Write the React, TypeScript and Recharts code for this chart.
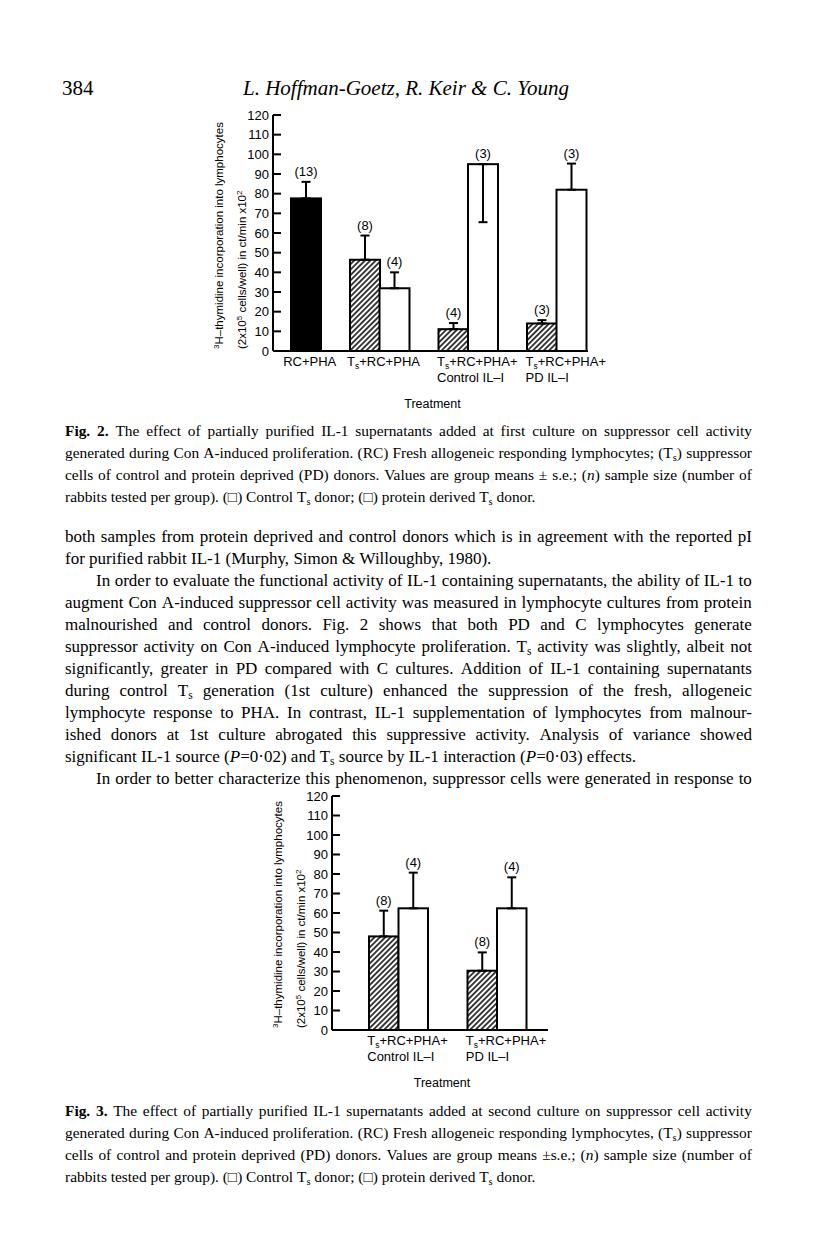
import React from "react";
import { BarChart, Bar, XAxis, YAxis, ErrorBar } from "recharts";

const SANS = "'Liberation Sans', Arial, sans-serif";
const SERIF = "'Liberation Serif', 'Times New Roman', serif";

// Fig. 2 – IL-1 added at first culture (RC+PHA has one solid bar only)
const fig2Groups = ["RC+PHA", "T_s+RC+PHA", "T_s+RC+PHA+|Control IL–I", "T_s+RC+PHA+|PD IL–I"];
const fig2Solid = [77.6, null, null, null];
const fig2SolidSe = [8.4, null, null, null];
const fig2SolidN = [13, null, null, null];
const fig2Hatched = [null, 46.4, 11.1, 14];
const fig2HatchedSe = [null, 12.3, 3.1, 1.7];
const fig2HatchedN = [null, 8, 4, 3];
const fig2Open = [null, 31.9, 95, 82];
const fig2OpenSe = [null, 8.1, -29.5, 13.3]; // negative: drawn below the mean
const fig2OpenN = [null, 4, 3, 3];

// Fig. 3 – IL-1 added at second culture
const fig3Groups = ["T_s+RC+PHA+|Control IL–I", "T_s+RC+PHA+|PD IL–I"];
const fig3Hatched = [48, 30.4];
const fig3HatchedSe = [13.2, 9.4];
const fig3HatchedN = [8, 8];
const fig3Open = [62.4, 62.4];
const fig3OpenSe = [18.3, 15.9];
const fig3OpenN = [4, 4];

const yTicks = [0, 10, 20, 30, 40, 50, 60, 70, 80, 90, 100, 110, 120];

const errPair = (se: number | null) => (se == null ? [0, 0] : se < 0 ? [-se, 0] : [0, se]);

// one slot per bar (plus an empty slot between groups) so RC+PHA can sit alone
type Slot = {
  key: string;
  value: number | null;
  err: number[];
  n: number | null;
  kind: string;
  label: string | null;
  shift: boolean;
};
const fig2Slots: Slot[] = [];
fig2Groups.forEach((g, i) => {
  if (i > 0) fig2Slots.push({ key: `gap${i}`, value: null, err: [0, 0], n: null, kind: "gap", label: null, shift: false });
  if (fig2Solid[i] != null) {
    fig2Slots.push({ key: `solid${i}`, value: fig2Solid[i], err: errPair(fig2SolidSe[i]), n: fig2SolidN[i], kind: "solid", label: g, shift: false });
  } else {
    fig2Slots.push({ key: `hatched${i}`, value: fig2Hatched[i], err: errPair(fig2HatchedSe[i]), n: fig2HatchedN[i], kind: "hatched", label: g, shift: true });
    fig2Slots.push({ key: `open${i}`, value: fig2Open[i], err: errPair(fig2OpenSe[i]), n: fig2OpenN[i], kind: "open", label: null, shift: false });
  }
});

const fig3Rows = fig3Groups.map((g, i) => ({
  group: g,
  hatched: fig3Hatched[i],
  hatchedErr: errPair(fig3HatchedSe[i]),
  hatchedN: fig3HatchedN[i],
  open: fig3Open[i],
  openErr: errPair(fig3OpenSe[i]),
  openN: fig3OpenN[i],
}));

const FS = 13; // chart text size

const hatchDef = (id: string) => (
  <pattern id={id} patternUnits="userSpaceOnUse" width={3.8} height={3.8} patternTransform="rotate(45)">
    <rect width={3.8} height={3.8} fill="#fff" />
    <line x1={1.9} y1={0} x2={1.9} y2={3.8} stroke="#000" strokeWidth={1.5} />
  </pattern>
);

function sub(s: string) {
  const out: React.ReactNode[] = [];
  s.split("_s").forEach((part, i) => {
    if (i > 0) out.push(<tspan key={`s${i}`} dy={3} fontSize={8.5}>s</tspan>);
    out.push(<tspan key={`p${i}`} dy={i > 0 ? -3 : 0}>{part}</tspan>);
  });
  return out;
}

function groupLabel(text: string, cx: number, y: number) {
  const lines = text.split("|");
  if (lines.length === 1) {
    return (
      <text x={cx + 4} y={y + 15} textAnchor="middle" fontSize={FS} fontFamily={SANS} fill="#000">
        {sub(lines[0])}
      </text>
    );
  }
  return (
    <g>
      {lines.map((l, j) => (
        <text key={j} x={cx - 31} y={y + 15 + j * 16} fontSize={FS} fontFamily={SANS} fill="#000">
          {sub(l)}
        </text>
      ))}
    </g>
  );
}

const slotTick = (p: any) => {
  const s = fig2Slots.find((d) => d.key === p.payload.value);
  if (!s || !s.label) return <g />;
  const off = s.shift ? p.payload.offset ?? 14.75 : 0;
  return groupLabel(s.label, p.x + off, p.y);
};

const groupTick = (p: any) => groupLabel(p.payload.value, p.x, p.y);

const YTick = (p: any) => (
  <g>
    <line x1={p.x + 4} x2={p.x + 12} y1={p.y} y2={p.y} stroke="#000" strokeWidth={2} />
    <text x={p.x} y={p.y} dy={4.5} textAnchor="end" fontSize={FS} fontFamily={SANS} fill="#000">
      {p.payload.value}
    </text>
  </g>
);

const yTitle = (p: any) => {
  const vb = p.viewBox;
  const ax = vb.x + vb.width;
  const bottom = vb.y + vb.height - 2;
  return (
    <g fontFamily={SANS} fontSize={11.5} fill="#000">
      <text transform={`translate(${ax - 50},${bottom}) rotate(-90)`}>
        <tspan fontSize={8} dy={-4}>3</tspan>
        <tspan dy={4}>H–thymidine incorporation into lymphocytes</tspan>
      </text>
      <text transform={`translate(${ax - 27},${bottom}) rotate(-90)`}>
        <tspan>(2x10</tspan>
        <tspan fontSize={8} dy={-4}>5</tspan>
        <tspan dy={4}> cells/well) in ct/min x10</tspan>
        <tspan fontSize={8} dy={-4}>2</tspan>
      </text>
    </g>
  );
};

const treatment = (p: any) => {
  const vb = p.viewBox;
  return (
    <text x={vb.x + vb.width / 2 + 2} y={vb.y + 57} textAnchor="middle" fontSize={12.5} fontFamily={SANS} fill="#000">
      Treatment
    </text>
  );
};

const FILL: Record<string, string> = { solid: "#000", open: "#fff" };

function barShape(hatchId: string, valueKey: string, errKey: string, nKey: string, kind?: string) {
  return (p: any) => {
    const { x, y, width, height, payload } = p;
    const v = payload?.[valueKey];
    if (v == null || !height) return <g />;
    const k = kind ?? payload.kind;
    const ppu = height / v;
    const err = payload[errKey] as number[];
    const top = y - err[1] * ppu;
    const fill = k === "hatched" ? `url(#${hatchId})` : FILL[k];
    return (
      <g>
        <rect x={x} y={y} width={width} height={height} fill={fill} stroke="#000" strokeWidth={2} />
        <text x={x + width / 2} y={top - 6} textAnchor="middle" fontSize={FS} fontFamily={SANS} fill="#000">
          ({payload[nKey]})
        </text>
      </g>
    );
  };
}

const axisLine = { stroke: "#000", strokeWidth: 2 };

function Fig2Chart() {
  return (
    <BarChart width={430} height={330} data={fig2Slots} margin={{ top: 20, right: 42, left: 0, bottom: 0 }} barCategoryGap={0}>
      <defs>{hatchDef("hatchA")}</defs>
      <XAxis
        dataKey="key"
        interval={0}
        padding={{ left: 18, right: 2 }}
        axisLine={axisLine}
        tickLine={false}
        tickSize={0}
        tickMargin={0}
        height={74}
        tick={slotTick}
        label={{ content: treatment }}
      />
      <YAxis
        type="number"
        domain={[0, 120]}
        ticks={yTicks}
        interval={0}
        width={73}
        axisLine={axisLine}
        tickLine={false}
        tickSize={0}
        tickMargin={4}
        tick={YTick}
        label={{ content: yTitle }}
      />
      <Bar dataKey="value" isAnimationActive={false} shape={barShape("hatchA", "value", "err", "n")}>
        <ErrorBar dataKey="err" width={4.5} stroke="#000" strokeWidth={2} isAnimationActive={false} />
      </Bar>
    </BarChart>
  );
}

function Fig3Chart() {
  return (
    <BarChart width={310} height={320} data={fig3Rows} margin={{ top: 21, right: 22, left: 0, bottom: 0 }} barGap={0} barSize={29.5}>
      <defs>{hatchDef("hatchB")}</defs>
      <XAxis
        dataKey="group"
        interval={0}
        padding={{ left: 17, right: 2 }}
        axisLine={axisLine}
        tickLine={false}
        tickSize={0}
        tickMargin={0}
        height={65}
        tick={groupTick}
        label={{ content: treatment }}
      />
      <YAxis
        type="number"
        domain={[0, 120]}
        ticks={yTicks}
        interval={0}
        width={72}
        axisLine={axisLine}
        tickLine={false}
        tickSize={0}
        tickMargin={4}
        tick={YTick}
        label={{ content: yTitle }}
      />
      <Bar dataKey="hatched" isAnimationActive={false} shape={barShape("hatchB", "hatched", "hatchedErr", "hatchedN", "hatched")}>
        <ErrorBar dataKey="hatchedErr" width={4.5} stroke="#000" strokeWidth={2} isAnimationActive={false} />
      </Bar>
      <Bar dataKey="open" isAnimationActive={false} shape={barShape("hatchB", "open", "openErr", "openN", "open")}>
        <ErrorBar dataKey="openErr" width={4.5} stroke="#000" strokeWidth={2} isAnimationActive={false} />
      </Bar>
    </BarChart>
  );
}

// ---- page text ----
function rich(w: string) {
  return w
    .split(/(\*\*[^*]+\*\*|\*[^*]+\*|_s)/)
    .filter(Boolean)
    .map((t, i) =>
      t.startsWith("**") ? (
        <b key={i}>{t.slice(2, -2)}</b>
      ) : t.startsWith("*") ? (
        <i key={i}>{t.slice(1, -1)}</i>
      ) : t === "_s" ? (
        <span key={i} style={{ fontSize: "0.68em", position: "relative", top: "0.3em" }}>s</span>
      ) : (
        <React.Fragment key={i}>{t}</React.Fragment>
      )
    );
}

type TextLine = { t: string; indent?: boolean; last?: boolean };

function TextBlock({ lines, top, step, size }: { lines: TextLine[]; top: number; step: number; size: number }) {
  return (
    <>
      {lines.map((l, i) => {
        const left = l.indent ? 96 : 65;
        return (
          <div
            key={i}
            style={{
              position: "absolute",
              top: top + i * step,
              left,
              width: 752 - left,
              height: 22,
              lineHeight: "22px",
              fontSize: size,
              fontFamily: SERIF,
              whiteSpace: "nowrap",
              display: "flex",
              justifyContent: l.last ? "flex-start" : "space-between",
              columnGap: l.last ? "0.25em" : 2,
              color: "#000",
            }}
          >
            {l.t.split(" ").map((w, j) => (
              <span key={j} style={{ flexShrink: 0 }}>{rich(w)}</span>
            ))}
          </div>
        );
      })}
    </>
  );
}

const fig2Caption: TextLine[] = [
  { t: "**Fig.** **2.** The effect of partially purified IL-1 supernatants added at first culture on suppressor cell activity" },
  { t: "generated during Con A-induced proliferation. (RC) Fresh allogeneic responding lymphocytes; (T_s) suppressor" },
  { t: "cells of control and protein deprived (PD) donors. Values are group means ± s.e.; (*n*) sample size (number of" },
  { t: "rabbits tested per group). (□) Control T_s donor; (□) protein derived T_s donor.", last: true },
];

const bodyText: TextLine[] = [
  { t: "both samples from protein deprived and control donors which is in agreement with the reported pI" },
  { t: "for purified rabbit IL-1 (Murphy, Simon & Willoughby, 1980).", last: true },
  { t: "In order to evaluate the functional activity of IL-1 containing supernatants, the ability of IL-1 to", indent: true },
  { t: "augment Con A-induced suppressor cell activity was measured in lymphocyte cultures from protein" },
  { t: "malnourished and control donors. Fig. 2 shows that both PD and C lymphocytes generate" },
  { t: "suppressor activity on Con A-induced lymphocyte proliferation. T_s activity was slightly, albeit not" },
  { t: "significantly, greater in PD compared with C cultures. Addition of IL-1 containing supernatants" },
  { t: "during control T_s generation (1st culture) enhanced the suppression of the fresh, allogeneic" },
  { t: "lymphocyte response to PHA. In contrast, IL-1 supplementation of lymphocytes from malnour-" },
  { t: "ished donors at 1st culture abrogated this suppressive activity. Analysis of variance showed" },
  { t: "significant IL-1 source (*P*=0·02) and T_s source by IL-1 interaction (*P*=0·03) effects.", last: true },
  { t: "In order to better characterize this phenomenon, suppressor cells were generated in response to", indent: true },
];

const fig3Caption: TextLine[] = [
  { t: "**Fig.** **3.** The effect of partially purified IL-1 supernatants added at second culture on suppressor cell activity" },
  { t: "generated during Con A-induced proliferation. (RC) Fresh allogeneic responding lymphocytes, (T_s) suppressor" },
  { t: "cells of control and protein deprived (PD) donors. Values are group means ±s.e.; (*n*) sample size (number of" },
  { t: "rabbits tested per group). (□) Control T_s donor; (□) protein derived T_s donor.", last: true },
];

export default function App() {
  return (
    <div style={{ position: "absolute", left: 0, top: 0, width: 816, height: 1238, background: "#fff", color: "#000" }}>
      <div style={{ position: "absolute", left: 62, top: 75, fontSize: 21, lineHeight: "26px", fontFamily: SERIF }}>384</div>
      <div style={{ position: "absolute", left: 243, top: 75, fontSize: 21, lineHeight: "26px", fontFamily: SERIF, fontStyle: "italic" }}>
        L. Hoffman-Goetz, R. Keir &amp; C. Young
      </div>
      <div style={{ position: "absolute", left: 200, top: 95 }}>
        <Fig2Chart />
      </div>
      <TextBlock lines={fig2Caption} top={420.4} step={21.8} size={15.4} />
      <TextBlock lines={bodyText} top={525.5} step={22} size={17} />
      <div style={{ position: "absolute", left: 260, top: 775 }}>
        <Fig3Chart />
      </div>
      <TextBlock lines={fig3Caption} top={1100.4} step={21.8} size={15.4} />
    </div>
  );
}
